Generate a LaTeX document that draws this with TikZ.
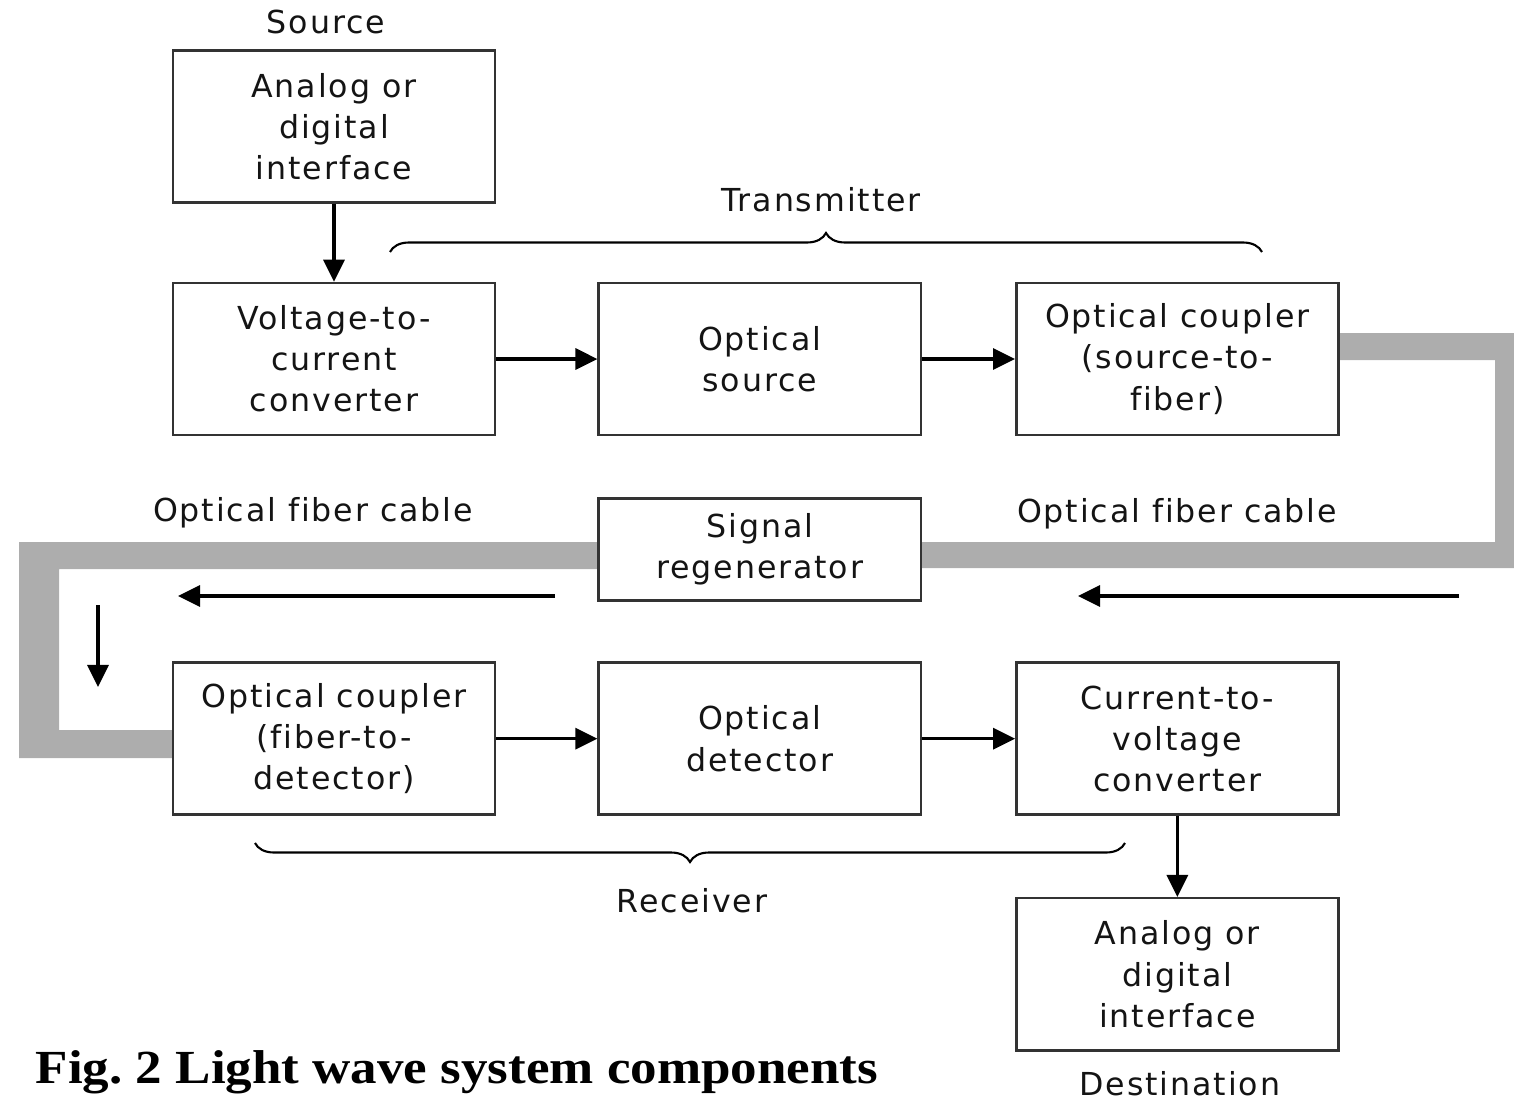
\documentclass[tikz,border=0pt]{standalone}
\usepackage{fontspec}
\setmainfont{Liberation Serif}
\newfontfamily\boxsans[LetterSpace=6, Ligatures=NoCommon]{DejaVu Sans}
\usepackage{xcolor}
\usetikzlibrary{arrows.meta, positioning, decorations.pathreplacing}
\definecolor{fibregray}{HTML}{ADADAD}
\frenchspacing

\begin{document}
\begin{tikzpicture}[
    x=0.01cm, y=-0.01cm,
    node distance=0.84cm and 1.01cm,
    box/.style={rectangle, draw=black!80, line width=0.7pt, fill=white,
                minimum width=3.22cm, minimum height=1.52cm, inner sep=0pt,
                align=center, text=black!92, font=\boxsans\fontsize{9}{11.7}\selectfont},
    lbl/.style={font=\boxsans\fontsize{9}{11.7}\selectfont, text=black!92, inner sep=0pt},
    arr/.style={-{Triangle[length=0.22cm, width=0.21cm]}, line width=0.9pt},
    fibre/.style={fill=fibregray},
    brc/.style={decorate, decoration={brace, amplitude=0.19cm, aspect=0.5}, line width=0.6pt},
]
    \useasboundingbox (0,0) rectangle (1514,1100);

    % Fibre cable
    \fill[fibre] (1337,333) -- (1522,333) -- (1522,568) -- (918,568)
        -- (918,542) -- (1495,542) -- (1495,360) -- (1337,360) -- cycle;
    \fill[fibre] (598,542) -- (19,542) -- (19,758) -- (173,758)
        -- (173,730) -- (59,730) -- (59,569) -- (598,569) -- cycle;

    % Transmitter side
    \node[box] (vi) at (334,359) {Voltage-to-\\current\\converter};
    \node[box, above=0.78cm of vi] (src) {Analog or\\digital\\interface};
    \node[box, right=1.01cm of vi] (osrc) {Optical\\source};
    \node[box, right=0.93cm of osrc] (ctx) {Optical coupler\\(source-to-\\fiber)};

    % Regenerator
    \node[box, minimum height=1.02cm, below=0.61cm of osrc] (regen) {Signal\\regenerator};

    % Receiver side
    \node[box, below=2.25cm of vi] (crx) {Optical coupler\\(fiber-to-\\detector)};
    \node[box, right=1.01cm of crx] (odet) {Optical\\detector};
    \node[box, right=0.93cm of odet] (iv) {Current-to-\\voltage\\converter};
    \node[box, below=0.81cm of iv] (dst) {Analog or\\digital\\interface};

    % Labels
    \node[lbl] (srctxt) at (326,22) {Source};
    \node[lbl] (fibl) at (313,513) {Optical fiber cable};
    \node[lbl] (fibr) at (1177,514) {Optical fiber cable};
    \node[lbl] (txtag) at (821,200) {Transmitter};
    \node[lbl] (rxtag) at (692,901) {Receiver};
    \node[lbl] (dsttag) at (1180,1084) {Destination};
    \node[anchor=base west, inner sep=0pt, font=\rmfamily\bfseries\fontsize{13.5}{16}\selectfont]
        (cap) at (35,1083) {\scalebox{1.117}[1]{Fig. 2 Light wave system components}};

    % Braces
    \draw[brc] (390,252) -- (1262,252);
    \draw[brc] (1125,843) -- (255,843);

    % Arrows
    \draw[arr] (src) -- (vi);
    \draw[arr] (vi) -- (osrc);
    \draw[arr] (osrc) -- (ctx);
    \draw[arr] (crx) -- (odet);
    \draw[arr] (odet) -- (iv);
    \draw[arr] (iv) -- (dst);

    % Direction along the fibre
    \coordinate (ra) at (1459,596);
    \coordinate (rb) at (1078,596);
    \coordinate (la) at (555,596);
    \coordinate (lb) at (178,596);
    \coordinate (da) at (98,605);
    \coordinate (db) at (98,687);
    \draw[arr] (ra) -- (rb);
    \draw[arr] (la) -- (lb);
    \draw[arr] (da) -- (db);
\end{tikzpicture}
\end{document}
